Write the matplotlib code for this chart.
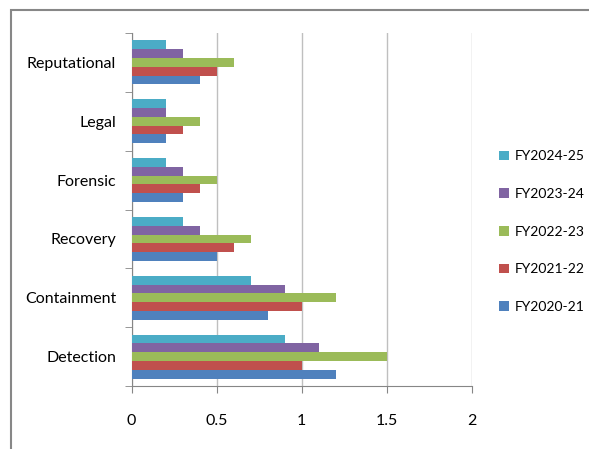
import numpy as np
import matplotlib
matplotlib.use("Agg")
import matplotlib.pyplot as plt
from matplotlib.patches import Rectangle

plt.rcParams['font.family'] = ['Lato', 'DejaVu Sans']

categories = ['Detection', 'Containment', 'Recovery', 'Forensic', 'Legal', 'Reputational']
series_names = ['FY2020-21', 'FY2021-22', 'FY2022-23', 'FY2023-24', 'FY2024-25']
fy2020 = [1.2, 0.8, 0.5, 0.3, 0.2, 0.4]
fy2021 = [1.0, 1.0, 0.6, 0.4, 0.3, 0.5]
fy2022 = [1.5, 1.2, 0.7, 0.5, 0.4, 0.6]
fy2023 = [1.1, 0.9, 0.4, 0.3, 0.2, 0.3]
fy2024 = [0.9, 0.7, 0.3, 0.2, 0.2, 0.2]
colors = ['#4F81BD', '#C0504D', '#9BBB59', '#8064A2', '#4BACC6']

series = [fy2020, fy2021, fy2022, fy2023, fy2024]

fig = plt.figure(figsize=(5.89, 4.49), dpi=100)
ax = fig.add_axes([0.2233, 0.1403, 0.578, 0.7862])

y = np.arange(len(categories))
h = 0.75 / len(series)
for i, (vals, name, c) in enumerate(zip(series, series_names, colors)):
    ax.barh(y - 0.375 + h * (i + 0.5), vals, height=h, color=c, label=name, zorder=3)

ax.set_xlim(0, 2)
ax.set_ylim(-0.5, len(categories) - 0.5)
ax.set_xticks([0, 0.5, 1, 1.5, 2])
ax.set_xticklabels(['0', '0.5', '1', '1.5', '2'])
ax.set_yticks(y)
ax.set_yticklabels(categories)
ax.set_yticks(np.arange(len(categories) + 1) - 0.5, minor=True)
ax.tick_params(axis='y', which='major', length=0, pad=11, labelsize=11.5)
ax.tick_params(axis='y', which='minor', length=5, color='#868686', direction='out')
ax.tick_params(axis='x', length=5, color='#868686', pad=15, labelsize=11.5)
ax.xaxis.grid(True, color='#BFBFBF', linewidth=1, zorder=0)

for s in ['top', 'right']:
    ax.spines[s].set_visible(False)
for s in ['left', 'bottom']:
    ax.spines[s].set_color('#868686')

handles, labels = ax.get_legend_handles_labels()
leg = fig.legend(handles[::-1], labels[::-1], loc='center left',
                 bbox_to_anchor=(0.826, 0.484), frameon=False, fontsize=10,
                 handlelength=0.7, handleheight=0.7, handletextpad=0.4,
                 labelspacing=1.85)

# outer chart frame
fig.patches.append(Rectangle((11 / 589, -0.1), 1.2, 1 - 10 / 449 + 0.1,
                             transform=fig.transFigure, fill=False,
                             edgecolor='#878787', linewidth=1.5))

fig.savefig('out.png', dpi=100)
